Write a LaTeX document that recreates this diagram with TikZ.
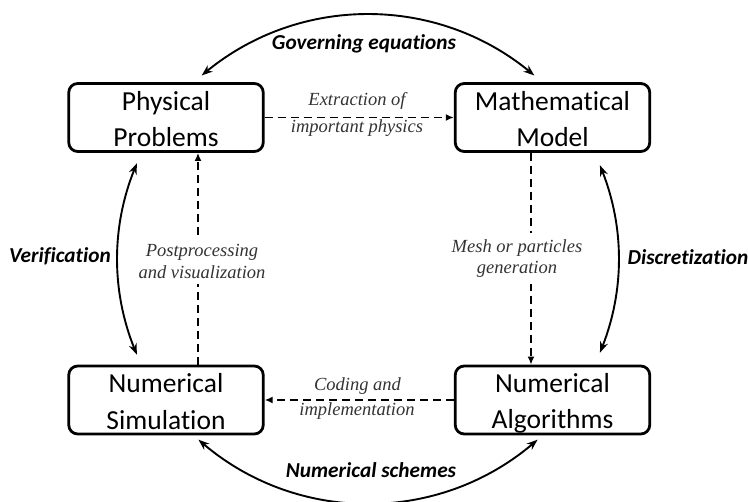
\documentclass[tikz,border=0pt]{standalone}
\usepackage{fontspec}
\setmainfont{Carlito}[Ligatures={NoCommon,NoRare}]
\newfontfamily\tnr{Liberation Serif}
\usetikzlibrary{arrows.meta,bending}
\begin{document}
\begin{tikzpicture}[x=1pt,y=1pt,
  box/.style={draw, line width=2.8pt, rounded corners=9pt, minimum width=194.5pt, minimum height=68pt, inner sep=0pt},
  boxtext/.style={align=center, inner sep=0pt, font=\fontsize{27.5}{36.5}\selectfont},
  dasharrow/.style={line width=1.9pt, dash pattern=on 8pt off 5pt, -{Latex[length=8pt,width=7pt]}},
  cyc/.style={line width=1.9pt, {Stealth[length=11pt,width=8pt,bend]}-{Stealth[length=11pt,width=8pt,bend]}},
  lab/.style={font=\fontsize{21.3}{24}\selectfont\bfseries\itshape, inner sep=0pt},
  note/.style={font=\tnr\itshape\fontsize{18.5}{21.5}\selectfont, text=black!80, inner sep=0pt, align=center}
]
\useasboundingbox (0,0) rectangle (748,502);

% boxes
\node[box] (PP) at (166,384.5) {};
\node[box] (MM) at (552.5,384.5) {};
\node[box] (NS) at (166,102) {};
\node[box] (NA) at (552.5,102) {};
\node[boxtext] (PPt) at ([yshift=-1.5pt]PP.center) {Physical\\Problems};
\node[boxtext] (MMt) at ([yshift=-1.5pt]MM.center) {Mathematical\\Model};
\node[boxtext] (NSt) at ([yshift=-1.5pt]NS.center) {Numerical\\Simulation};
\node[boxtext] (NAt) at ([yshift=-3.5pt]NA.center) {Numerical\\Algorithms};

% dashed connectors
\coordinate (rx) at (531,0);
\coordinate (lx) at (198,0);
\draw[dasharrow] (PP.east) -- (MM.west);
\draw[dasharrow] (MM.south -| rx) -- (NA.north -| rx);
\draw[dasharrow] (NA.west) -- (NS.east);
\draw[dasharrow] (NS.north -| lx) -- (PP.south -| lx);

% dashed labels
\node[note, anchor=base] (e1) at (357,396) {Extraction of};
\node[note, anchor=base] (e2) at (357,369) {important physics};
\node[note, fill=white, inner ysep=6pt, inner xsep=2pt] (mp) at (517,243.5) {Mesh or particles\\generation};
\node[note, fill=white, inner ysep=6pt, inner xsep=2pt] (pv) at (202,240.5) {Postprocessing\\and visualization};
\node[note, anchor=base] (c1) at (357.5,111) {Coding and};
\node[note, anchor=base] (c2) at (357,86) {implementation};

% cycle arcs
\coordinate (O) at (368,243);
\coordinate (g1) at ([shift={(131.5:251 and 245)}]O);
\coordinate (d1) at ([shift={(22.5:251 and 245)}]O);
\coordinate (n1) at ([shift={(-47.5:251 and 245)}]O);
\coordinate (v1) at ([shift={(157:251 and 245)}]O);
\draw[cyc] (g1) arc[start angle=131.5, end angle=48.5, x radius=251, y radius=245];
\draw[cyc] (d1) arc[start angle=22.5, end angle=-22.5, x radius=251, y radius=245];
\draw[cyc] (n1) arc[start angle=-47.5, end angle=-132.5, x radius=251, y radius=245];
\draw[cyc] (v1) arc[start angle=157, end angle=203, x radius=251, y radius=245];

% cycle labels
\node[lab, anchor=base] (lg) at (364,452) {Governing equations};
\node[lab, anchor=base] (ln) at (371,24) {Numerical schemes};
\node[lab, anchor=base] (ld) at (688,237) {Discretization};
\node[lab, anchor=base] (lv) at (60,239) {Verification};
\end{tikzpicture}
\end{document}
